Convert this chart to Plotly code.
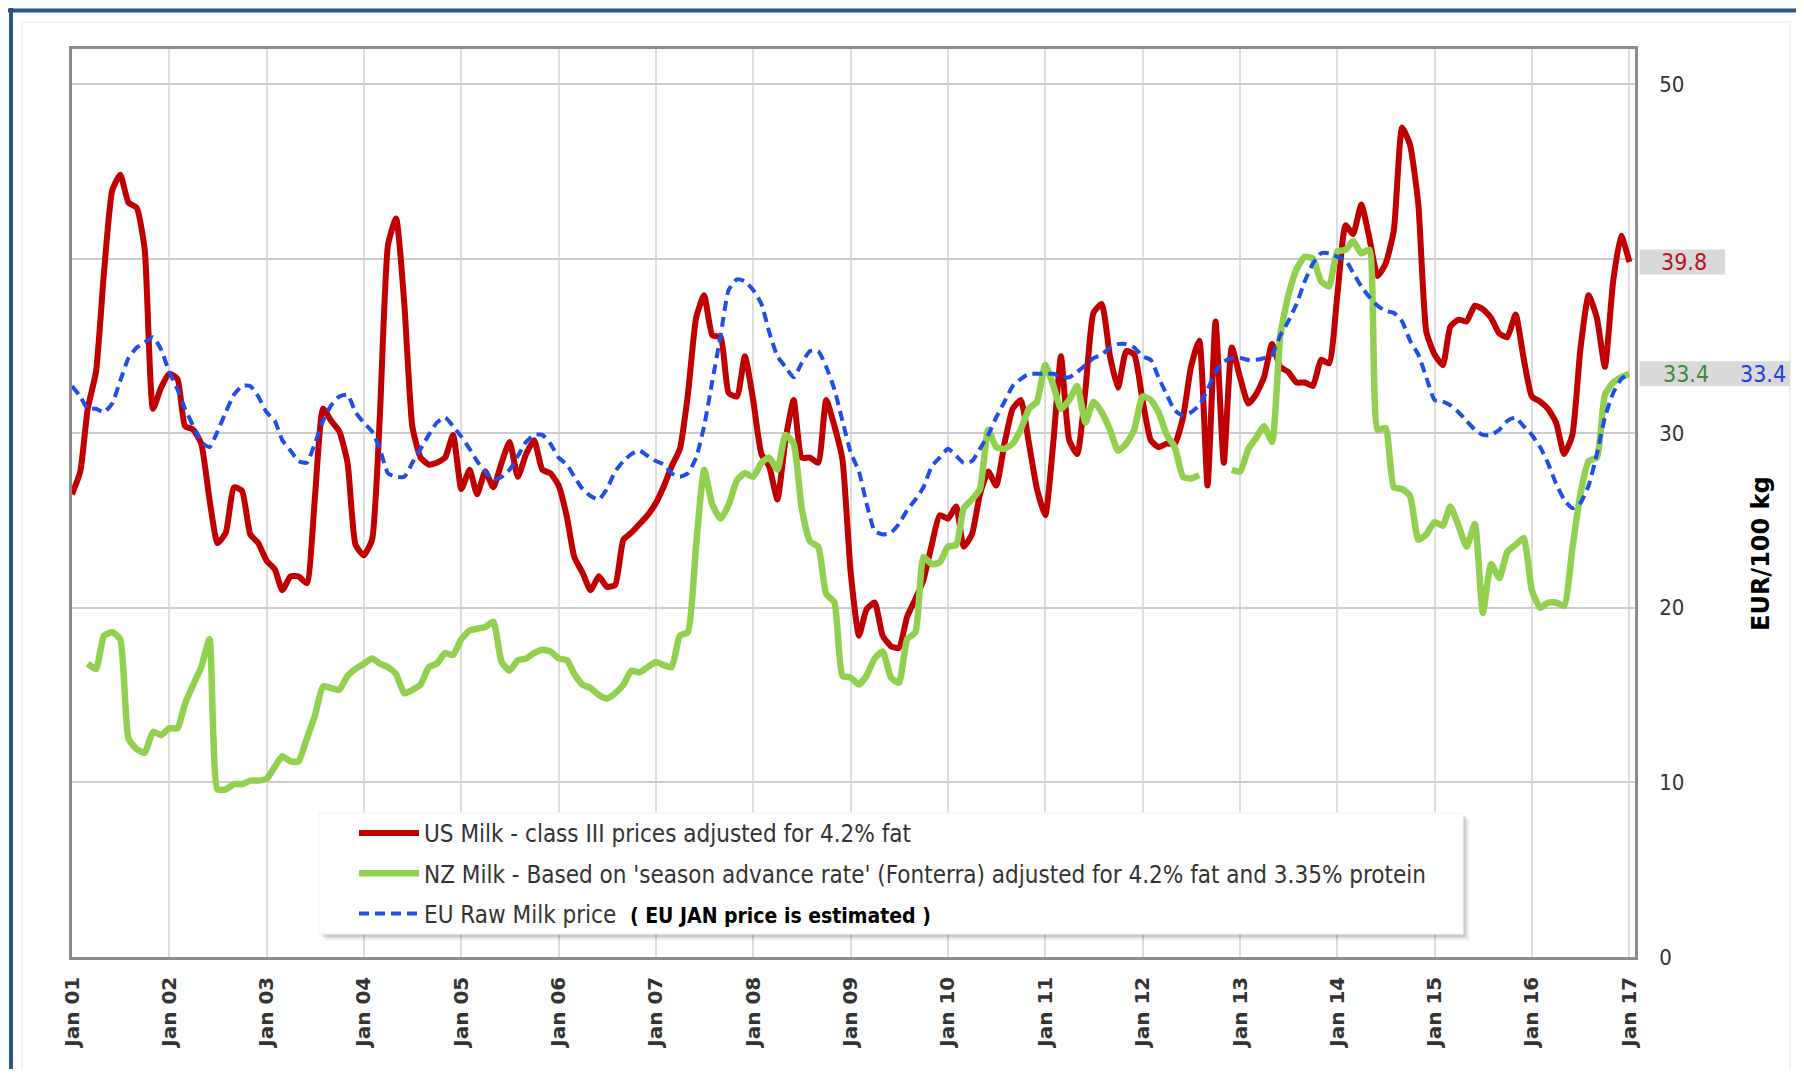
import pandas as pd
import plotly.graph_objects as go

# ---------------- data (monthly, Jan 2001 .. Jan 2017) ----------------
dates = pd.date_range("2001-01-01", periods=193, freq="MS")

us_milk = [
    26.5, 27.8, 31.4, 33.5, 39.2, 43.9, 44.8, 43.2, 42.9, 40.5, 31.4, 32.6,
    33.4, 33.1, 30.4, 30.2, 29.4, 26.2, 23.7, 24.3, 26.9, 26.7, 24.2, 23.7,
    22.7, 22.2, 21.0, 21.8, 21.8, 21.4, 26.2, 31.4, 30.7, 30.1, 28.3, 23.6,
    23.0, 23.9, 30.9, 40.8, 42.3, 37.4, 30.4, 28.6, 28.2, 28.3, 28.6, 29.9,
    26.8, 27.9, 26.5, 27.8, 26.9, 28.3, 29.5, 27.5, 28.8, 29.6, 27.9, 27.7,
    27.0, 25.2, 22.9, 22.0, 21.0, 21.8, 21.2, 21.3, 23.9, 24.3, 24.8, 25.3,
    26.0, 27.0, 28.1, 29.1, 32.2, 36.6, 37.9, 35.6, 35.5, 32.3, 32.1, 34.4,
    31.9, 28.8, 28.1, 26.2, 29.6, 31.9, 28.6, 28.6, 28.3, 31.9, 30.4, 28.5,
    22.0, 18.4, 19.9, 20.3, 18.4, 17.8, 17.7, 19.5, 20.5, 21.6, 23.6, 25.3,
    25.1, 25.8, 23.5, 24.2, 26.5, 27.8, 27.0, 29.4, 31.4, 31.9, 29.4, 26.8,
    25.3, 29.6, 34.4, 29.6, 28.8, 32.5, 36.9, 37.4, 34.4, 32.6, 34.7, 34.5,
    31.9, 29.6, 29.2, 29.4, 29.4, 30.9, 33.8, 35.3, 27.0, 36.4, 28.3, 34.9,
    33.2, 31.7, 32.2, 33.2, 35.1, 33.8, 33.5, 32.9, 32.9, 32.7, 34.2, 34.0,
    37.9, 41.9, 41.4, 43.1, 41.2, 39.0, 39.7, 41.6, 47.5, 46.5, 43.1, 35.8,
    34.5, 33.9, 36.1, 36.5, 36.4, 37.3, 37.1, 36.6, 35.7, 35.5, 36.8, 34.3,
    32.1, 31.8, 31.4, 30.6, 28.8, 29.9, 34.8, 37.9, 36.6, 33.8, 38.7, 41.3,
    39.8,
]

nz_milk = [
    None, None, 16.8, 16.5, 18.4, 18.6, 18.2, 12.5, 11.9, 11.7, 12.9, 12.7,
    13.1, 13.1, 14.5, 15.6, 16.6, 18.2, 9.6, 9.6, 9.9, 9.9, 10.1, 10.1,
    10.2, 10.9, 11.5, 11.2, 11.2, 12.5, 13.8, 15.5, 15.4, 15.3, 16.1, 16.5,
    16.8, 17.1, 16.8, 16.6, 16.2, 15.1, 15.3, 15.6, 16.6, 16.8, 17.4, 17.3,
    18.2, 18.7, 18.8, 18.9, 19.2, 16.9, 16.4, 17.0, 17.1, 17.4, 17.6, 17.5,
    17.1, 17.0, 16.2, 15.6, 15.4, 15.0, 14.8, 15.1, 15.6, 16.4, 16.3, 16.6,
    16.9, 16.7, 16.6, 18.4, 18.6, 23.6, 27.9, 25.9, 25.1, 25.9, 27.3, 27.7,
    27.5, 28.3, 28.6, 27.9, 29.9, 29.4, 25.7, 23.8, 23.5, 20.8, 20.3, 16.1,
    16.0, 15.6, 16.1, 17.1, 17.5, 16.0, 15.7, 18.2, 18.6, 22.9, 22.5, 22.6,
    23.5, 23.6, 25.7, 26.2, 26.8, 30.2, 29.2, 29.1, 29.4, 30.2, 31.4, 31.8,
    33.9, 32.7, 31.4, 31.9, 32.7, 30.6, 31.8, 31.2, 30.2, 29.0, 29.4, 30.2,
    32.1, 31.9, 31.2, 29.9, 29.2, 27.5, 27.4, 27.6, None, None, None, 27.9,
    27.8, 29.1, 29.7, 30.4, 29.5, 35.6, 37.9, 39.4, 40.1, 40.0, 38.7, 38.4,
    40.4, 40.5, 41.0, 40.3, 40.5, 30.2, 30.3, 26.9, 26.8, 26.4, 23.9, 24.2,
    24.9, 24.7, 25.8, 24.7, 23.5, 24.8, 19.7, 22.5, 21.7, 23.2, 23.6, 24.0,
    21.0, 20.0, 20.3, 20.3, 20.1, 23.4, 26.5, 28.4, 28.6, 32.2, 32.9, 33.2,
    33.4,
]

eu_milk = [
    32.7, 32.1, 31.4, 31.4, 31.2, 31.7, 33.0, 34.3, 34.9, 35.2, 35.5, 34.8,
    33.5, 32.5, 31.4, 30.4, 29.5, 29.2, 30.1, 31.2, 32.2, 32.7, 32.7, 32.1,
    31.2, 30.7, 29.6, 29.0, 28.4, 28.3, 29.4, 30.7, 31.6, 32.1, 32.2, 31.2,
    30.6, 30.1, 29.1, 27.7, 27.5, 27.5, 28.3, 29.1, 29.9, 30.6, 30.9, 30.4,
    29.8, 29.1, 28.4, 27.8, 27.3, 27.5, 27.9, 28.7, 29.5, 29.9, 29.9, 29.4,
    28.6, 28.2, 27.5, 26.8, 26.4, 26.2, 26.8, 27.8, 28.4, 28.8, 29.0, 28.7,
    28.4, 28.2, 27.7, 27.5, 27.7, 28.6, 30.4, 33.0, 35.6, 38.2, 38.8, 38.7,
    38.2, 37.4, 35.8, 34.4, 33.8, 33.2, 34.0, 34.7, 34.7, 33.8, 32.5, 30.7,
    28.9, 27.8, 26.0, 24.4, 24.2, 24.3, 24.8, 25.6, 26.2, 26.9, 28.1, 28.6,
    29.1, 28.7, 28.3, 28.4, 29.1, 29.9, 30.9, 31.8, 32.7, 33.1, 33.4, 33.4,
    33.4, 33.4, 33.2, 33.2, 33.5, 33.9, 34.3, 34.5, 34.9, 35.1, 35.1, 34.9,
    34.4, 34.2, 33.2, 32.2, 31.3, 31.0, 31.2, 31.6, 32.5, 33.5, 34.1, 34.3,
    34.3, 34.2, 34.2, 34.3, 34.5, 35.6, 36.4, 37.4, 38.7, 39.7, 40.3, 40.3,
    40.1, 39.9, 39.2, 38.4, 37.8, 37.3, 37.0, 36.9, 36.4, 35.3, 34.5, 33.2,
    31.9, 31.8, 31.6, 31.2, 30.7, 30.2, 29.9, 29.9, 30.2, 30.7, 30.9, 30.4,
    29.9, 29.2, 28.3, 27.1, 26.2, 25.7, 26.0, 27.0, 28.8, 30.9, 32.3, 33.1,
    33.4,
]

series_names = [
    "US Milk - class III prices adjusted for 4.2% fat",
    "NZ Milk - Based on 'season advance rate' (Fonterra) adjusted for 4.2% fat and 3.35% protein",
    "EU Raw Milk price\u00a0\u00a0<b><span style='color:#000000;font-size:21px'>( EU JAN price is estimated )</span></b>",
]
y_tickvals = [0, 10, 20, 30, 40, 50]
y_ticktext = ["0", "10", "20", "30", "", "50"]   # 40 is hidden behind the value box
y_title = "EUR/100 kg"
y_max = 52

# ---------------- layout helpers (figure pixels -> paper) ----------------
W, H = 1788, 1061
ML, MR, MT, MB = 64, 161, 41, 112
PW, PH = W - ML - MR, H - MT - MB


def px_x(px):
    return (px - ML) / PW


def px_y(py):
    return (H - MB - py) / PH


COND = "DejaVu Sans Condensed, DejaVu Sans, sans-serif"
RED, GREEN, BLUE = "#C00000", "#92D050", "#1F4FE8"

fig = go.Figure()
fig.add_trace(go.Scatter(x=dates, y=us_milk, name=series_names[0], legendgroup="us",
                         mode="lines", line=dict(color=RED, width=6, shape="spline", smoothing=0.5)))
fig.add_trace(go.Scatter(x=dates, y=nz_milk, name=series_names[1], legendgroup="nz",
                         mode="lines", connectgaps=False,
                         line=dict(color=GREEN, width=6.5, shape="spline", smoothing=0.5)))
fig.add_trace(go.Scatter(x=dates, y=eu_milk, name=series_names[2], legendgroup="eu",
                         mode="lines", line=dict(color=BLUE, width=4, dash="10px,6px",
                                                 shape="spline", smoothing=0.5)))

shapes = []
# outer frame
shapes.append(dict(type="rect", xref="paper", yref="paper", x0=px_x(14), x1=px_x(1782),
                   y0=px_y(14), y1=px_y(1066), line=dict(color="#EDEDED", width=1.5), layer="below"))
shapes.append(dict(type="line", xref="paper", yref="paper", x0=px_x(0), x1=px_x(W),
                   y0=px_y(2.5), y1=px_y(2.5), line=dict(color="#2C5487", width=4)))
shapes.append(dict(type="line", xref="paper", yref="paper", x0=px_x(3), x1=px_x(3),
                   y0=px_y(0), y1=px_y(H), line=dict(color="#2C5487", width=4)))
# legend box with soft shadow
LX0, LX1, LY0, LY1 = 311, 1455, 805, 926
for off, alpha in [(7, 0.04), (5, 0.07), (3, 0.10)]:
    shapes.append(dict(type="rect", xref="paper", yref="paper",
                       x0=px_x(LX0 + off), x1=px_x(LX1 + off), y0=px_y(LY0 + off), y1=px_y(LY1 + off),
                       fillcolor=f"rgba(0,0,0,{alpha})", line=dict(width=0), layer="above"))
shapes.append(dict(type="rect", xref="paper", yref="paper",
                   x0=px_x(LX0), x1=px_x(LX1), y0=px_y(LY0), y1=px_y(LY1),
                   fillcolor="white", line=dict(color="#F2F2F2", width=1), layer="above"))
# last-value boxes
half = 0.72
for v, xr in [(us_milk[-1], 1717), (nz_milk[-1], 1782)]:
    shapes.append(dict(type="rect", xref="paper", yref="paper",
                       x0=px_x(1631.5), x1=px_x(xr), y0=(v - half) / y_max, y1=(v + half) / y_max,
                       fillcolor="#D9D9D9", line=dict(width=0)))

annotations = [
    dict(x=px_x(1676), y=us_milk[-1], xref="paper", yref="y", text=f"{us_milk[-1]:.1f}",
         xanchor="center", yanchor="middle",
         showarrow=False, font=dict(family=COND, size=23, color="#C0101A")),
    dict(x=px_x(1678), y=nz_milk[-1], xref="paper", yref="y", text=f"{nz_milk[-1]:.1f}",
         xanchor="center", yanchor="middle",
         showarrow=False, font=dict(family=COND, size=23, color="#3A8C3A")),
    dict(x=px_x(1755), y=eu_milk[-1], xref="paper", yref="y", text=f"{eu_milk[-1]:.1f}",
         xanchor="center", yanchor="middle",
         showarrow=False, font=dict(family=COND, size=23, color="#2040E0")),
    dict(x=px_x(1753), y=px_y(546), xref="paper", yref="paper", text=f"<b>{y_title}</b>",
         xanchor="center", yanchor="middle",
         textangle=-90, showarrow=False, font=dict(family="DejaVu Sans", size=24, color="#000000")),
]

fig.update_layout(
    width=W, height=H,
    margin=dict(l=ML, r=MR, t=MT, b=MB, pad=0),
    paper_bgcolor="white", plot_bgcolor="white",
    showlegend=True,
    legend=dict(x=px_x(346), y=px_y(803), xanchor="left", yanchor="top",
                bgcolor="rgba(0,0,0,0)", borderwidth=0, tracegroupgap=6, itemwidth=60,
                font=dict(family=COND, size=24, color="#333333")),
    shapes=shapes,
    annotations=annotations,
    xaxis=dict(type="date", range=["2001-01-01", "2017-01-22"], tick0="2001-01-01", dtick="M12",
               tickformat="%b %y", tickangle=-90, showgrid=True, gridcolor="#DDDDDD", gridwidth=1.5,
               showline=True, linecolor="#8C8C8C", linewidth=2.5, mirror=True, ticks="",
               zeroline=False, ticklabelstandoff=9,
               tickfont=dict(family="DejaVu Sans", size=20, color="#333333", weight="bold")),
    yaxis=dict(side="right", range=[0, y_max], tickmode="array", tickvals=y_tickvals,
               ticktext=y_ticktext, showgrid=True,
               gridcolor="#CCCCCC", gridwidth=2, showline=True, linecolor="#8C8C8C", linewidth=2.5,
               mirror=True, ticks="", zeroline=False, ticklabelstandoff=17,
               tickfont=dict(family=COND, size=22, color="#333333")),
)

fig.write_html("out.html")
